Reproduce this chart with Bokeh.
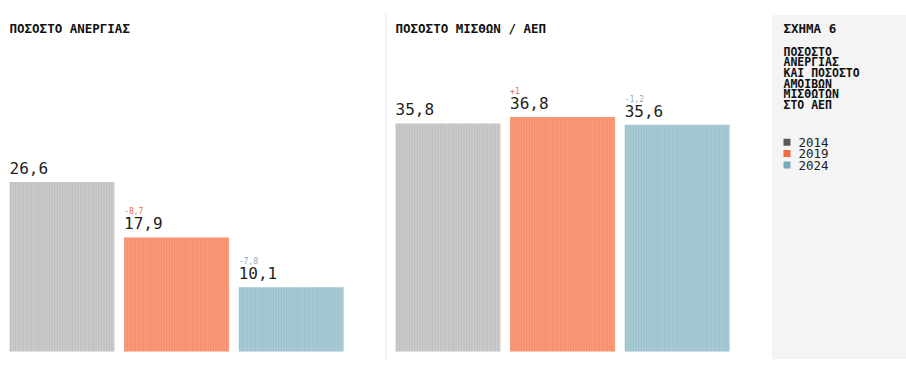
from bokeh.plotting import figure
from bokeh.models import Range1d, ColumnDataSource, Label, BoxAnnotation
from bokeh.core.properties import value
from bokeh.embed import file_html
from bokeh.resources import INLINE

# ---------------- data ----------------
years = ["2014", "2019", "2024"]
unemployment = [26.6, 17.9, 10.1]
unemployment_labels = ["26,6", "17,9", "10,1"]
unemployment_deltas = ["", "-8,7", "-7,8"]
wages_gdp = [35.8, 36.8, 35.6]
wages_labels = ["35,8", "36,8", "35,6"]
wages_deltas = ["", "+1", "-1,2"]

panel_titles = ["ΠΟΣΟΣΤΟ ΑΝΕΡΓΙΑΣ", "ΠΟΣΟΣΤΟ ΜΙΣΘΩΝ / ΑΕΠ"]
side_title = "ΣΧΗΜΑ 6"
side_lines = ["ΠΟΣΟΣΤΟ", "ΑΝΕΡΓΙΑΣ", "ΚΑΙ ΠΟΣΟΣΤΟ", "ΑΜΟΙΒΩΝ", "ΜΙΣΘΩΤΩΝ", "ΣΤΟ ΑΕΠ"]

# ---------------- style ----------------
fill_colors = ["#cbcbcb", "#fd9a7a", "#a9cbd5"]
stripe_colors = ["#a8a8a8", "#e27858", "#84b1c0"]
legend_colors = ["#595959", "#f26b43", "#78a9ba"]
delta_colors = ["#000000", "#ec6a45", "#7fb0c0"]
FONT = "DejaVu Sans Mono"

W, H = 906, 367
K = 6.37            # pixels per percentage point
BASE = 351          # baseline, px from top of figure

def Y(py):  # px-from-top -> data y
    return (BASE - py) / K

p = figure(width=W, height=H, output_backend="svg", toolbar_location=None,
           x_range=Range1d(0, W), y_range=Range1d(Y(H), Y(0)),
           min_border=0, outline_line_color=None,
           background_fill_color="white", border_fill_color="white")
p.axis.visible = False
p.grid.visible = False

# sidebar background and separator
p.add_layout(BoxAnnotation(left=772, right=W, top=Y(15), bottom=Y(358),
                           fill_color="#f4f4f5", fill_alpha=1,
                           line_color="#e6e6e6", line_width=1, level="underlay"))
p.segment(x0=[385.5], y0=[Y(13)], x1=[385.5], y1=[Y(358)], line_color="#e4e4e4", line_width=1)

bar_w = 105
step = 114.6
panel_x0 = [9, 395]
stripe_gap = 2.6

for panel, (vals, labs, dels) in enumerate([(unemployment, unemployment_labels, unemployment_deltas),
                                            (wages_gdp, wages_labels, wages_deltas)]):
    x0 = panel_x0[panel]
    lefts = [x0 + i * step for i in range(len(vals))]
    centers = [l + bar_w / 2 for l in lefts]
    src = ColumnDataSource(dict(x=centers, left=lefts, top=vals,
                                fill=fill_colors,
                                lab=labs, lab_y=[v + 14 / K for v in vals],
                                dl=dels, dl_y=[v + 26.5 / K for v in vals],
                                dc=delta_colors))
    p.vbar(x="x", width=bar_w, top="top", bottom=0, source=src,
           fill_color="fill", line_color=None)
    # vertical stripe texture, derived from each bar's extent
    sx, sy1, sc = [], [], []
    for l, v, c in zip(lefts, vals, stripe_colors):
        n = int(bar_w / stripe_gap)
        for j in range(n):
            sx.append(l + 1 + j * stripe_gap)
            sy1.append(v)
            sc.append(c)
    p.segment(x0=sx, y0=[0] * len(sx), x1=sx, y1=sy1, line_color=sc,
              line_width=1, line_alpha=0.35)
    p.text(x="left", y="lab_y", text="lab", source=src,
           text_font=value(FONT), text_font_size="16px", text_color="#1e1e1e",
           text_baseline="middle", text_align="left")
    p.text(x="left", y="dl_y", text="dl", source=src,
           text_font=value(FONT), text_font_size="8px", text_color="dc",
           text_baseline="middle", text_align="left")
    p.add_layout(Label(x=x0, y=Y(27.5), text=panel_titles[panel],
                       text_font=FONT, text_font_size="12.5px", text_font_style="bold",
                       text_color="#111111", text_baseline="middle"))

# sidebar texts
p.add_layout(Label(x=783, y=Y(27.5), text=side_title, text_font=FONT,
                   text_font_size="12.5px", text_font_style="bold", text_color="#111111",
                   text_baseline="middle"))
for i, line in enumerate(side_lines):
    p.add_layout(Label(x=783, y=Y(51.2 + i * 10.6), text=line, text_font=FONT,
                       text_font_size="11.5px", text_font_style="bold", text_color="#111111",
                       text_baseline="middle"))

leg = ColumnDataSource(dict(x=[786.5] * 3, y=[Y(141.7 + i * 11.4) for i in range(3)],
                            tx=[798] * 3, c=legend_colors, t=years))
p.scatter(x="x", y="y", marker="square", size=7, fill_color="c", line_color=None, source=leg)
p.text(x="tx", y="y", text="t", source=leg, text_font=value(FONT), text_font_size="12.5px",
       text_color="#222222", text_baseline="middle")

open("out.html", "w").write(file_html(p, INLINE))
